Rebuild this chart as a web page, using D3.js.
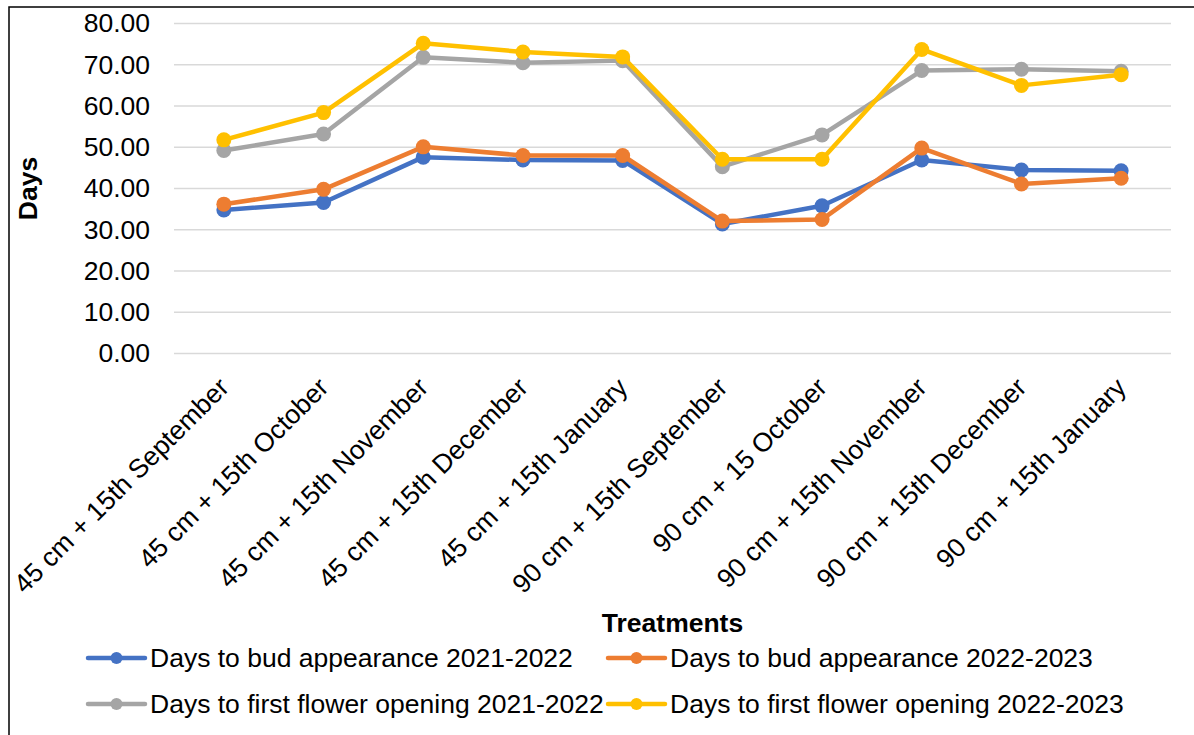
<!DOCTYPE html>
<html>
<head>
<meta charset="utf-8">
<script src="https://cdn.jsdelivr.net/npm/d3@7"></script>
<style>
  body { margin: 0; background: #fff; }
  text { font-family: "Liberation Sans", Arial, sans-serif; fill: #000; }
</style>
</head>
<body>
<script>
// chart data
const treatments = [
  "45 cm + 15th September", "45 cm + 15th October", "45 cm + 15th November",
  "45 cm + 15th December", "45 cm + 15th January", "90 cm + 15th September",
  "90 cm + 15 October", "90 cm + 15th November", "90 cm + 15th December",
  "90 cm + 15th January"
];
const budAppearance2122 = [34.8, 36.6, 47.6, 46.9, 46.8, 31.4, 35.8, 46.9, 44.5, 44.3];
const budAppearance2223 = [36.2, 39.8, 50.1, 48.0, 48.0, 32.1, 32.5, 49.8, 41.1, 42.5];
const firstFlower2122 = [49.2, 53.2, 71.8, 70.5, 71.0, 45.3, 53.0, 68.6, 68.9, 68.4];
const firstFlower2223 = [51.8, 58.4, 75.2, 73.1, 71.9, 47.1, 47.1, 73.7, 65.0, 67.6];
const seriesNames = [
  "Days to bud appearance 2021-2022", "Days to bud appearance 2022-2023",
  "Days to first flower opening 2021-2022", "Days to first flower opening 2022-2023"
];
const yTicks = [0, 10, 20, 30, 40, 50, 60, 70, 80];

const colors = ["#4472C4", "#ED7D31", "#A5A5A5", "#FFC000"];
const series = [budAppearance2122, budAppearance2223, firstFlower2122, firstFlower2223]
  .map((values, i) => ({ name: seriesNames[i], color: colors[i], values }));

const width = 1194, height = 735;
const margin = { left: 174, right: 23, top: 23.5, bottom: 381.5 };
const fontSize = 26.5;

const svg = d3.select("body").append("svg")
  .attr("width", width)
  .attr("height", height);

// outer frame (only top and left edges fall inside the picture)
svg.append("rect")
  .attr("x", 9).attr("y", 7)
  .attr("width", 1300).attr("height", 900)
  .attr("fill", "none").attr("stroke", "#000").attr("stroke-width", 1.5);

const x = d3.scaleBand()
  .domain(treatments)
  .range([margin.left, width - margin.right]);

const y = d3.scaleLinear()
  .domain([0, 80])
  .range([height - margin.bottom, margin.top]);

// gridlines
svg.append("g")
  .selectAll("line")
  .data(yTicks)
  .join("line")
  .attr("x1", margin.left)
  .attr("x2", width - margin.right)
  .attr("y1", d => y(d))
  .attr("y2", d => y(d))
  .attr("stroke", "#D9D9D9")
  .attr("stroke-width", 1.5);

// y axis labels
const yAxis = svg.append("g")
  .attr("transform", `translate(${margin.left - 24},0)`)
  .call(d3.axisLeft(y).tickValues(yTicks).tickFormat(d3.format(".2f")).tickSize(0).tickPadding(0));
yAxis.select(".domain").remove();
yAxis.selectAll("text")
  .attr("font-family", "'Liberation Sans', Arial, sans-serif")
  .attr("font-size", fontSize)
  .attr("fill", "#000");

// x axis labels, rotated
svg.append("g")
  .selectAll("text")
  .data(treatments)
  .join("text")
  .attr("transform", d => `translate(${x(d) + x.bandwidth() / 2},${y(0) + 29}) rotate(-45)`)
  .attr("text-anchor", "end")
  .attr("dy", "0.35em")
  .attr("font-size", fontSize)
  .text(d => d);

// axis titles
svg.append("text")
  .attr("transform", `translate(37,${(y(0) + y(80)) / 2}) rotate(-90)`)
  .attr("text-anchor", "middle")
  .attr("font-size", fontSize)
  .attr("font-weight", "bold")
  .text("Days");

svg.append("text")
  .attr("x", (margin.left + width - margin.right) / 2)
  .attr("y", 632)
  .attr("text-anchor", "middle")
  .attr("font-size", fontSize)
  .attr("font-weight", "bold")
  .text("Treatments");

// lines and markers
const line = d3.line()
  .x((d, i) => x(treatments[i]) + x.bandwidth() / 2)
  .y(d => y(d));

const seriesGroup = svg.append("g")
  .selectAll("g")
  .data(series)
  .join("g");

seriesGroup.append("path")
  .attr("d", d => line(d.values))
  .attr("fill", "none")
  .attr("stroke", d => d.color)
  .attr("stroke-width", 4.5)
  .attr("stroke-linejoin", "round");

seriesGroup.selectAll("circle")
  .data(d => d.values.map(v => ({ v, color: d.color })))
  .join("circle")
  .attr("cx", (d, i) => x(treatments[i]) + x.bandwidth() / 2)
  .attr("cy", d => y(d.v))
  .attr("r", 7.5)
  .attr("fill", d => d.color);

// legend
const legendPos = [
  { x: 88, y: 658 }, { x: 608, y: 658 },
  { x: 88, y: 704 }, { x: 608, y: 704 }
];
const legend = svg.append("g")
  .selectAll("g")
  .data(series)
  .join("g")
  .attr("transform", (d, i) => `translate(${legendPos[i].x},${legendPos[i].y})`);

legend.append("line")
  .attr("x1", 0).attr("x2", 57)
  .attr("stroke", d => d.color)
  .attr("stroke-width", 4.5)
  .attr("stroke-linecap", "round");

legend.append("circle")
  .attr("cx", 28.5)
  .attr("r", 6)
  .attr("fill", d => d.color);

legend.append("text")
  .attr("x", 62)
  .attr("dy", "0.35em")
  .attr("font-size", fontSize)
  .text(d => d.name);
</script>
</body>
</html>
